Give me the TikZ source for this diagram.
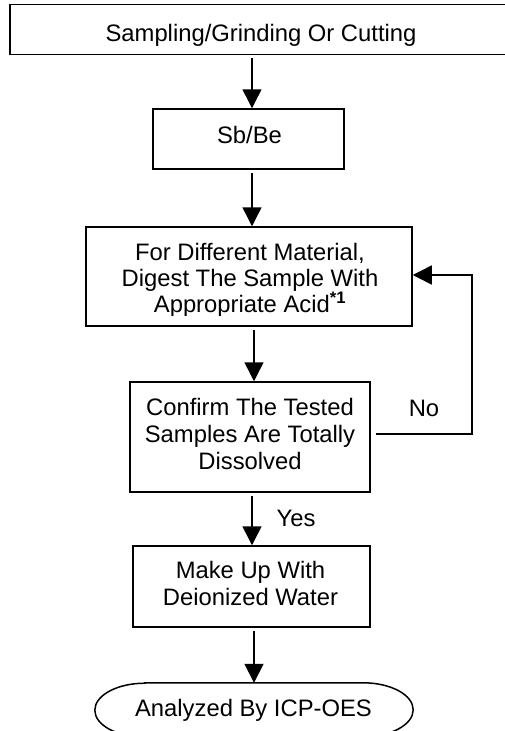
\documentclass[tikz,border=0pt]{standalone}
\usepackage{fontspec}
\setmainfont{Liberation Sans}
\usetikzlibrary{arrows.meta}
\begin{document}
\begin{tikzpicture}[x=1pt,y=-1pt,
  flow/.style={font=\fontsize{23.8}{27}\selectfont, align=center, inner sep=0pt},
  stepbox/.style={draw, line width=1.5pt, inner sep=0pt},
  arr/.style={line width=1.5pt, -{Triangle[length=19pt,width=19pt]}, shorten <=3pt},
]
\useasboundingbox (0,0) rectangle (505,731);

% frames of the process steps
\node[stepbox, minimum width=502, minimum height=50] (sample) at (261,29.5) {};
\node[stepbox, minimum width=191, minimum height=60] (sb) at (248.5,139) {};
\node[stepbox, minimum width=326, minimum height=99] (digest) at (249,276.5) {};
\node[stepbox, minimum width=240, minimum height=110] (confirm) at (250,437) {};
\node[stepbox, minimum width=237, minimum height=81] (makeup) at (251.5,586.5) {};
\node[minimum width=318, minimum height=54, inner sep=0pt] (done) at (254,710) {};
\draw[line width=1.5pt]
  ([xshift=50pt]done.north west) -- ([xshift=-50pt]done.north east)
  arc[start angle=90, end angle=-90, x radius=50pt, y radius=27pt]
  -- ([xshift=50pt]done.south west)
  arc[start angle=270, end angle=90, x radius=50pt, y radius=27pt] -- cycle;

% step texts
\node[flow] (sample-t) at (261,35.8) {Sampling/Grinding Or Cutting};
\node[flow] (sb-t) at (249.5,134.5) {Sb/Be};
\begin{scope}
  % the text area of this step stops short of its lower border
  \clip (digest.north west) rectangle ([yshift=11pt]digest.south east);
  \node[flow, font=\fontsize{23.8}{26}\selectfont] (digest-t) at (250,280.8)
    {For Different Material,\\Digest The Sample With\\Appropriate Acid\textsuperscript{\bfseries *1}};
\end{scope}
\node[flow] (confirm-t) at (250,433.8) {Confirm The Tested\\Samples Are Totally\\Dissolved};
\node[flow] (makeup-t) at (250.5,583.8) {Make Up With\\Deionized Water};
\node[flow] (done-t) at (253.5,710.5) {Analyzed By ICP-OES};

% connectors
\coordinate (spineA) at (252,0);
\coordinate (spineB) at (254,0);
\coordinate (loop) at (472,0);
\draw[arr] (sample.south -| spineA) -- (sb.north -| spineA);
\draw[arr] (sb.south -| spineA) -- (digest.north -| spineA);
\draw[arr] (digest.south -| spineB) -- (confirm.north -| spineB);
\draw[arr] (confirm.south -| spineA) -- (makeup.north -| spineA);
\draw[arr] (makeup.south -| spineB) -- (done.north -| spineB);
\draw[arr, shorten <=5pt] ([yshift=3pt]confirm.east) -- ([yshift=3pt]confirm.east -| loop)
  -- ([yshift=1.5pt]digest.east -| loop) -- ([yshift=1.5pt]digest.east);

% branch labels
\node[flow] (no) at (424,408.5) {No};
\node[flow] (yes) at (296,518.5) {Yes};
\end{tikzpicture}
\end{document}
